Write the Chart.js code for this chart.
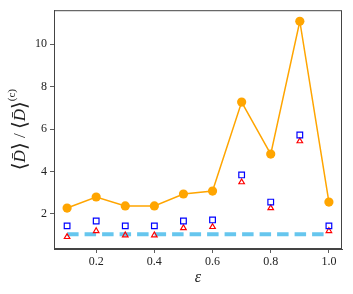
<!DOCTYPE html>
<html>
<head>
<meta charset="utf-8">
<script src="https://cdn.jsdelivr.net/npm/chart.js@4.4.1/dist/chart.umd.min.js"></script>
<style>
  html, body { margin: 0; padding: 0; background: #fff; }
  canvas { display: block; }
</style>
</head>
<body>
<canvas id="ratioChart" width="353" height="294"></canvas>
<script>
// data
const epsilon = [0.1, 0.2, 0.3, 0.4, 0.5, 0.6, 0.7, 0.8, 0.9, 1.0];
const ratioCircle = [2.28, 2.80, 2.38, 2.38, 2.94, 3.08, 7.27, 4.82, 11.08, 2.56];
const ratioSquare = [1.44, 1.67, 1.44, 1.44, 1.67, 1.72, 3.84, 2.56, 5.72, 1.44];
const ratioTriangle = [0.92, 1.20, 1.00, 1.00, 1.34, 1.39, 3.50, 2.28, 5.43, 1.20];
const baselineX = [0.1, 1.0];
const baselineY = [1.05, 1.05];
const xTicks = [0.2, 0.4, 0.6, 0.8, 1.0];
const yTicks = [2, 4, 6, 8, 10];

const serif = "'Liberation Serif', 'DejaVu Serif', serif";

function pts(xs, ys) {
    return xs.map((x, i) => ({ x: x, y: ys[i] }));
}

// frame + axis titles (y title has mixed fonts, so drawn by hand)
const labelsPlugin = {
    id: 'labels',
    afterDraw(chart) {
        const ctx = chart.ctx;
        const a = chart.chartArea;
        ctx.save();
        ctx.strokeStyle = '#444';
        ctx.lineWidth = 1;
        ctx.strokeRect(a.left + 0.5, a.top + 0.5, a.right - a.left - 1, a.bottom - a.top - 1);

        ctx.fillStyle = '#222';
        ctx.textBaseline = 'alphabetic';
        ctx.font = "italic 16px " + serif;
        ctx.textAlign = 'center';
        ctx.fillText('ε', (a.left + a.right) / 2, 282);

        // y title, rotated
        const parts = [
            { t: '⟨', f: "20px " + serif, dy: 1 },
            { t: 'D̄', f: "italic 17px " + serif, dy: 0 },
            { t: '⟩', f: "20px " + serif, dy: 1 },
            { t: ' / ', f: "17px " + serif, dy: 0 },
            { t: '⟨', f: "20px " + serif, dy: 1 },
            { t: 'D̄', f: "italic 17px " + serif, dy: 0 },
            { t: '⟩', f: "20px " + serif, dy: 1 },
            { t: '(c)', f: "11px " + serif, dy: -10 }
        ];
        let total = 0;
        parts.forEach(p => { ctx.font = p.f; p.w = ctx.measureText(p.t).width; total += p.w; });
        ctx.translate(25, (a.top + a.bottom) / 2);
        ctx.rotate(-Math.PI / 2);
        ctx.textAlign = 'left';
        let x = -total / 2;
        parts.forEach(p => {
            ctx.font = p.f;
            ctx.fillText(p.t, x, p.dy);
            x += p.w;
        });
        ctx.restore();
    }
};

const ctx = document.getElementById('ratioChart').getContext('2d');
new Chart(ctx, {
    type: 'scatter',
    data: {
        datasets: [
            {
                data: pts(baselineX, baselineY),
                showLine: true,
                borderColor: '#66c6ee',
                borderWidth: 4,
                borderDash: [11.5, 6],
                borderCapStyle: 'butt',
                pointRadius: 0,
                order: 4
            },
            {
                data: pts(epsilon, ratioTriangle),
                pointStyle: 'triangle',
                pointRadius: 3.2,
                pointBorderWidth: 1.2,
                pointBorderColor: '#ff0000',
                pointBackgroundColor: 'rgba(0,0,0,0)',
                order: 3
            },
            {
                data: pts(epsilon, ratioSquare),
                pointStyle: 'rect',
                pointRadius: 4,
                pointBorderWidth: 1.2,
                pointBorderColor: '#0000ff',
                pointBackgroundColor: 'rgba(0,0,0,0)',
                order: 2
            },
            {
                data: pts(epsilon, ratioCircle),
                showLine: true,
                borderColor: '#ffa500',
                borderWidth: 1.5,
                pointStyle: 'circle',
                pointRadius: 4.6,
                pointBorderWidth: 0,
                pointBackgroundColor: '#ffa500',
                order: 1
            }
        ]
    },
    options: {
        responsive: false,
        devicePixelRatio: 1,
        animation: false,
        layout: { padding: { top: 10, right: 11, left: 0, bottom: 0 } },
        plugins: {
            legend: { display: false },
            tooltip: { enabled: false }
        },
        scales: {
            x: {
                type: 'linear',
                min: 0.055,
                max: 1.045,
                afterBuildTicks: s => { s.ticks = xTicks.map(v => ({ value: v })); },
                afterFit: s => { s.height = 45; },
                grid: { drawOnChartArea: false, drawTicks: true, tickLength: 4, tickColor: '#333', tickWidth: 0.8 },
                border: { display: true, color: '#444', width: 1 },
                ticks: {
                    color: '#222',
                    padding: 2,
                    maxRotation: 0,
                    font: { family: serif, size: 12 },
                    callback: v => v.toFixed(1)
                }
            },
            y: {
                min: 0.35,
                max: 11.6,
                afterBuildTicks: s => { s.ticks = yTicks.map(v => ({ value: v })); },
                afterFit: s => { s.width = 54; },
                grid: { drawOnChartArea: false, drawTicks: true, tickLength: 4, tickColor: '#333', tickWidth: 0.8 },
                border: { display: true, color: '#444', width: 1 },
                ticks: {
                    color: '#222',
                    padding: 3,
                    font: { family: serif, size: 12 },
                    callback: v => String(v)
                }
            }
        }
    },
    plugins: [labelsPlugin]
});
</script>
</body>
</html>
